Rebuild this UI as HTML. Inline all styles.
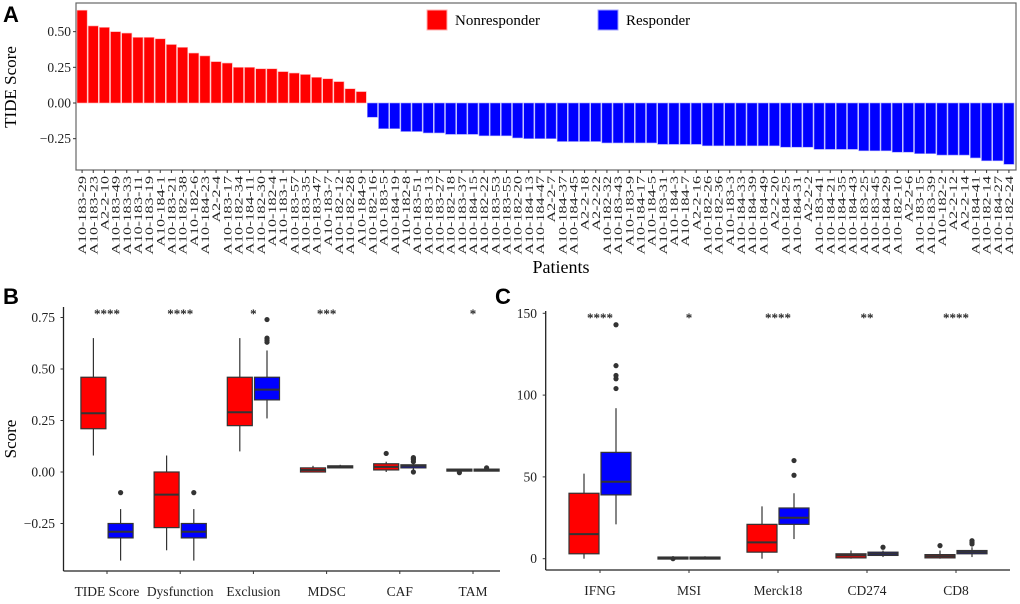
<!DOCTYPE html>
<html><head><meta charset="utf-8"><style>
html,body{margin:0;padding:0;background:#fff;}
svg{display:block;font-family:"Liberation Serif",serif;}
.pl{font-family:"Liberation Sans",sans-serif;font-weight:bold;font-size:22px;}
</style></head><body>
<svg id="fig" width="1020" height="604" viewBox="0 0 1020 604">
<text class="pl" x="3" y="22">A</text>
<text class="pl" x="3" y="304">B</text>
<text class="pl" x="495" y="304">C</text>
<g id="pa"></g>
<g id="pb"></g>
<g id="pc"></g>
</svg>
<script>
const patients=["A10-183-29","A10-183-23","A2-2-10","A10-183-49","A10-183-33","A10-183-11","A10-183-19","A10-184-1","A10-183-21","A10-182-38","A10-182-6","A10-184-23","A2-2-4","A10-183-17","A10-182-34","A10-184-11","A10-182-30","A10-182-4","A10-183-1","A10-183-57","A10-183-35","A10-183-47","A10-183-7","A10-182-12","A10-182-28","A10-184-9",
"A10-182-16","A10-183-5","A10-184-19","A10-182-8","A10-183-51","A10-183-13","A10-183-27","A10-182-18","A10-183-37","A10-184-15","A10-182-22","A10-183-53","A10-183-55","A10-182-20","A10-184-13","A10-184-47","A2-2-7","A10-184-37","A10-184-45","A2-2-18","A2-2-22","A10-182-32","A10-183-43","A10-183-9","A10-184-17","A10-184-5","A10-183-31","A10-184-3","A10-184-7","A2-2-16","A10-182-26","A10-182-36","A10-183-3","A10-184-33","A10-184-39","A10-184-49","A2-2-20","A10-184-25","A10-184-31","A2-2-2","A10-183-41","A10-184-21","A10-184-35","A10-184-43","A10-183-25","A10-183-45","A10-184-29","A10-182-10","A2-2-6","A10-183-15","A10-183-39","A10-182-2","A2-2-12","A2-2-14","A10-184-41","A10-182-14","A10-184-27","A10-182-24"];
const tideScores=[0.65,0.54,0.53,0.50,0.49,0.46,0.46,0.45,0.41,0.39,0.35,0.33,0.29,0.28,0.25,0.25,0.24,0.24,0.22,0.21,0.20,0.18,0.17,0.15,0.10,0.08,
-0.10,-0.18,-0.18,-0.20,-0.20,-0.21,-0.21,-0.22,-0.22,-0.22,-0.23,-0.23,-0.23,-0.245,-0.25,-0.25,-0.25,-0.27,-0.27,-0.27,-0.27,-0.28,-0.28,-0.28,-0.28,-0.28,-0.29,-0.29,-0.29,-0.29,-0.30,-0.30,-0.30,-0.30,-0.30,-0.30,-0.30,-0.31,-0.31,-0.31,-0.325,-0.325,-0.325,-0.325,-0.335,-0.335,-0.335,-0.345,-0.345,-0.355,-0.355,-0.365,-0.365,-0.365,-0.385,-0.405,-0.405,-0.43];
const aTicks=[-0.25,0,0.25,0.5];
const aTickLabels=["\u22120.25","0.00","0.25","0.50"];

const bCats=["TIDE Score","Dysfunction","Exclusion","MDSC","CAF","TAM"];
const bSig=["****","****","*","***","","*"];
// [whiskerLow,q1,median,q3,whiskerHigh]
const bNon=[[0.08,0.21,0.285,0.46,0.65],[-0.38,-0.27,-0.11,0.0,0.08],[0.10,0.225,0.29,0.46,0.65],[0,0,0.01,0.02,0.03],[0,0.01,0.025,0.04,0.05],[0.005,0.006,0.01,0.014,0.015]];
const bRes=[[-0.43,-0.32,-0.29,-0.25,-0.18],[-0.43,-0.32,-0.29,-0.25,-0.18],[0.26,0.35,0.40,0.46,0.59],[0.02,0.02,0.025,0.03,0.035],[0.01,0.02,0.03,0.035,0.045],[0.005,0.006,0.01,0.014,0.016]];
const bNonOut=[[],[],[],[],[0.09],[-0.003]];
const bResOut=[[-0.10],[-0.10],[0.74,0.65,0.64,0.63],[],[0.07,0.065,0.06,0.05,0.0],[0.02]];
const bTicks=[-0.25,0,0.25,0.5,0.75];
const bTickLabels=["\u22120.25","0.00","0.25","0.50","0.75"];

const cCats=["IFNG","MSI","Merck18","CD274","CD8"];
const cSig=["****","*","****","**","****"];
const cNon=[[0,3,15,40,52],[0,0.2,0.6,1,1.5],[0,4,10,21,32],[0,0.5,2,3,5],[0,0.5,1.5,2.5,5]];
const cRes=[[21,39,47,65,92],[0,0.2,0.6,1,1.5],[12,21,25,31,40],[1,2,3,4,5],[1,3,4,5,7]];
const cNonOut=[[],[0],[],[],[8]];
const cResOut=[[143,118,112,110,104],[],[60,51],[7],[11,10,9]];
const cTicks=[0,50,100,150];

const NS="http://www.w3.org/2000/svg";
function mk(p,t,a,txt){const e=document.createElementNS(NS,t);for(const k in a)e.setAttribute(k,a[k]);if(txt!==undefined)e.textContent=txt;p.appendChild(e);return e;}

// Panel A
(function(){
const g=document.getElementById('pa');
const x0=77,pitch=938/patients.length,bw=pitch-1;
const y=v=>103-v*142.7;
let r=mk(g,'rect',{x:76,y:3,width:940,height:167,fill:'none',stroke:'#666','stroke-width':1.2});


tideScores.forEach((v,i)=>{
 const b=mk(g,'rect',{x:x0+i*pitch,y:Math.min(y(v),y(0)),width:bw,height:Math.abs(y(v)-y(0)),fill:v>0?'#ff0000':'#0000ff',stroke:v>0?'#ffb0b0':'#a0a0ff','stroke-width':0.6});
 
 
 const cx=x0+i*pitch+bw/2;
 mk(g,'line',{x1:cx,x2:cx,y1:170,y2:173,stroke:'#333'});
 const t=mk(g,'text',{x:0,y:0,transform:`translate(${cx+4},176) rotate(-90) scale(1.4,1)`,'text-anchor':'end','font-size':11.5,fill:'#222'},patients[i]);
 
 
});
aTicks.forEach((v,i)=>{
 mk(g,'line',{x1:73,x2:76,y1:y(v),y2:y(v),stroke:'#333'});
 const t=mk(g,'text',{x:71,y:y(v)+4.5,'text-anchor':'end','font-size':13.5,fill:'#222'},aTickLabels[i]);
 
 
});
let t=mk(g,'text',{transform:'translate(16,87) rotate(-90)','text-anchor':'middle','font-size':17},'TIDE Score');


t=mk(g,'text',{x:561,y:273,'text-anchor':'middle','font-size':18},'Patients');


let l=mk(g,'rect',{x:427,y:10,width:20,height:20,fill:'#ff0000',stroke:'#ffb0b0'});


t=mk(g,'text',{x:455,y:25,'font-size':15},'Nonresponder');


l=mk(g,'rect',{x:598,y:10,width:20,height:20,fill:'#0000ff',stroke:'#a0a0ff'});


t=mk(g,'text',{x:626,y:25,'font-size':15},'Responder');


})();

function boxplot(g,o){
 const {cats,sig,non,res,nonOut,resOut,ticks,tickLabels,y,ax,axTop,axBot,axRight,cx0,step,bw,off,sigY,title,titleX,tickX}=o;
 mk(g,'line',{x1:ax,x2:ax,y1:axTop,y2:axBot,stroke:'#222','stroke-width':1.3});
 mk(g,'line',{x1:ax,x2:axRight,y1:axBot,y2:axBot,stroke:'#222','stroke-width':1.3});
 ticks.forEach((v,i)=>{
  mk(g,'line',{x1:ax-3,x2:ax,y1:y(v),y2:y(v),stroke:'#333'});
  const t=mk(g,'text',{x:tickX,y:y(v)+4.5,'text-anchor':'end','font-size':13.5,fill:'#222'},tickLabels[i]);
  
  
 });
 const ttl=mk(g,'text',{transform:`translate(${titleX},${(axTop+axBot)/2}) rotate(-90)`,'text-anchor':'middle','font-size':17},title);
 
 
 cats.forEach((c,i)=>{
  const cx=cx0+i*step;
  mk(g,'line',{x1:cx,x2:cx,y1:axBot,y2:axBot+3,stroke:'#333'});
  const t=mk(g,'text',{x:cx,y:axBot+25,'text-anchor':'middle','font-size':13.5,fill:'#222'},c);
  
  
  if(sig[i]){const s=mk(g,'text',{x:cx,y:sigY,'text-anchor':'middle','font-size':13,fill:'#222','font-weight':'bold'},sig[i]);
   
   }
  [[non[i],nonOut[i],'#ff0000',-off,'nonresponder'],[res[i],resOut[i],'#0000ff',off,'responder']].forEach(([d,out,col,dx,nm])=>{
   const bx=cx+dx;
   const gg=mk(g,'g',{});
   
   
   mk(gg,'line',{x1:bx,x2:bx,y1:y(d[0]),y2:y(d[4]),stroke:'#333','stroke-width':1.2});
   mk(gg,'rect',{x:bx-bw/2,y:y(d[3]),width:bw,height:Math.max(y(d[1])-y(d[3]),2),fill:col,stroke:'#333','stroke-width':1.2});
   mk(gg,'line',{x1:bx-bw/2,x2:bx+bw/2,y1:y(d[2]),y2:y(d[2]),stroke:'#333','stroke-width':2});
   out.forEach(v=>mk(gg,'circle',{cx:bx,cy:y(v),r:2.6,fill:'#333'}));
  });
 });
}
boxplot(document.getElementById('pb'),{cats:bCats,sig:bSig,non:bNon,res:bRes,nonOut:bNonOut,resOut:bResOut,ticks:bTicks,tickLabels:bTickLabels,
 y:v=>472-v*206,ax:63.5,axTop:307,axBot:571,axRight:500,cx0:107,step:73.2,bw:25,off:13.6,sigY:318,title:'Score',titleX:16,tickX:55});
boxplot(document.getElementById('pc'),{cats:cCats,sig:cSig,non:cNon,res:cRes,nonOut:cNonOut,resOut:cResOut,ticks:cTicks,tickLabels:cTicks.map(String),
 y:v=>558.7-v*1.636,ax:545.7,axTop:311,axBot:570,axRight:1010,cx0:600,step:89,bw:30,off:16,sigY:322,title:'',titleX:500,tickX:537});
</script>
</body></html>
